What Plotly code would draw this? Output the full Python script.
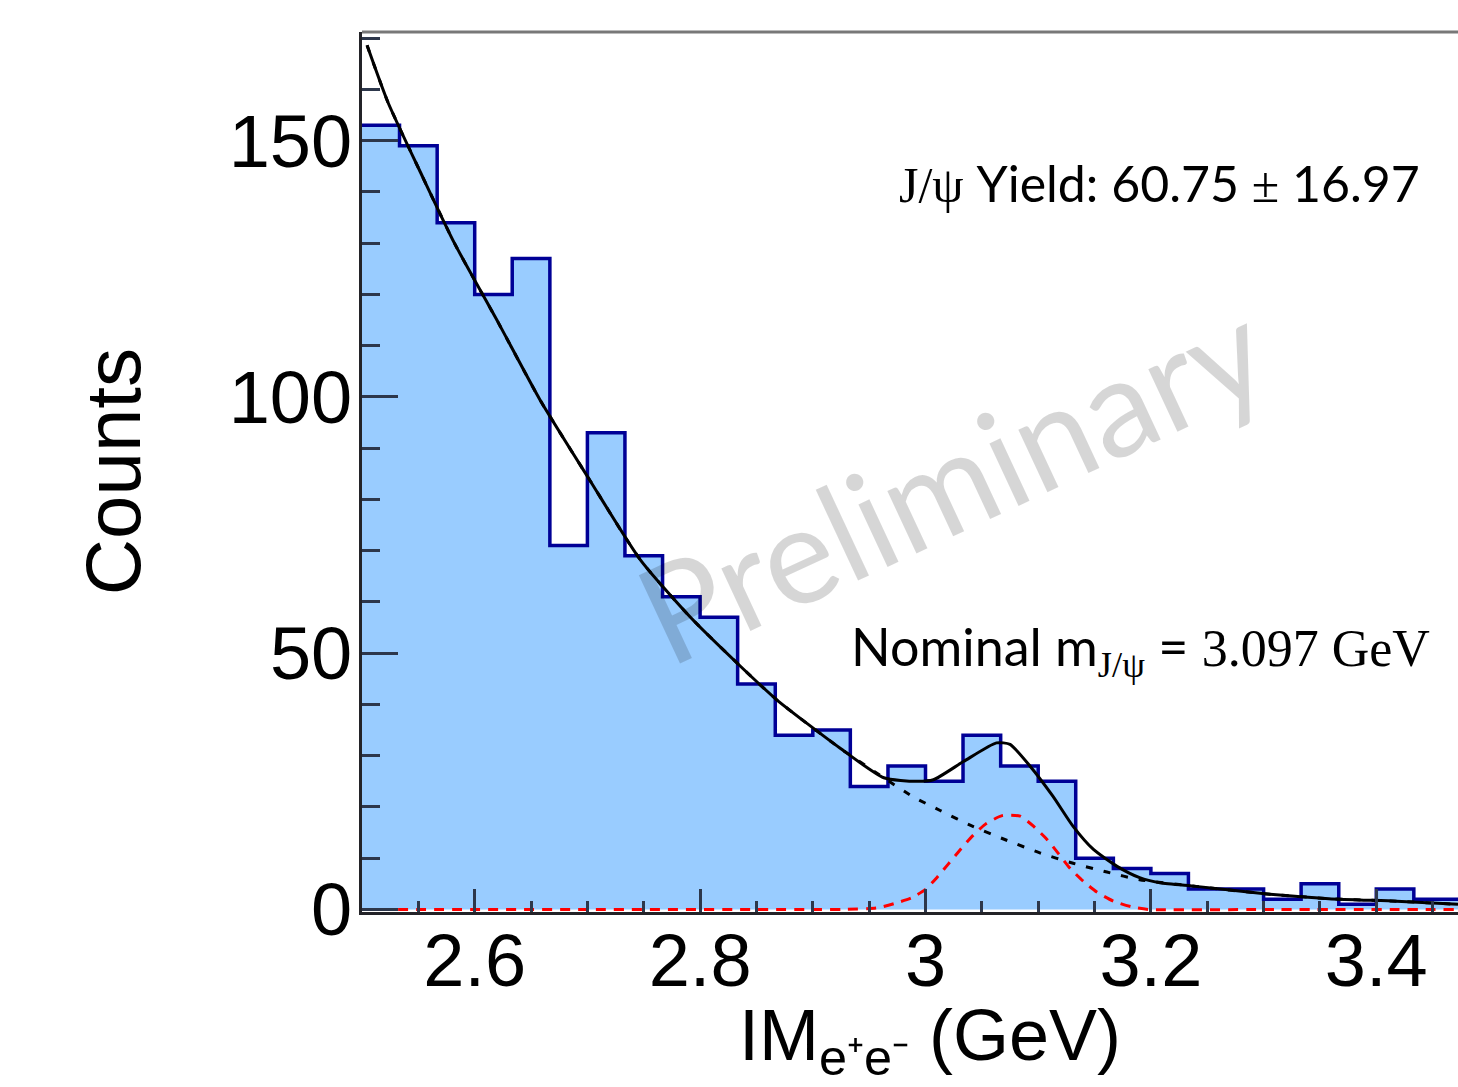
import plotly.graph_objects as go

# ---------------- data ----------------
bin_edges = [2.5, 2.5333, 2.5667, 2.6, 2.6333, 2.6667, 2.7, 2.7333, 2.7667, 2.8,
             2.8333, 2.8667, 2.9, 2.9333, 2.9667, 3.0, 3.0333, 3.0667, 3.1, 3.1333,
             3.1667, 3.2, 3.2333, 3.2667, 3.3, 3.3333, 3.3667, 3.4, 3.4333, 3.4667, 3.5]
counts = [153, 149, 134, 120, 127, 71, 93, 69, 61, 57,
          44, 34, 35, 24, 28, 25, 34, 28, 25, 10,
          8, 7, 4, 4, 2, 5, 1, 4, 2, 2]

# total fit (background + J/psi gaussian)
fit_x = [2.5045, 2.523, 2.553, 2.582, 2.6214, 2.658, 2.702, 2.747, 2.791, 2.836,
         2.868, 2.924, 2.963, 2.992, 3.007, 3.034, 3.063, 3.075, 3.093, 3.113,
         3.131, 3.149, 3.170, 3.190, 3.208, 3.240, 3.299, 3.358, 3.418, 3.4725]
fit_y = [168.6, 157.5, 143.3, 130.0, 114.3, 99.4, 83.8, 68.2, 57.1, 47.4,
         40.9, 31.5, 25.7, 25.0, 25.3, 28.9, 32.5, 32.2, 27.9, 22.1,
         16.2, 11.7, 8.4, 6.2, 5.2, 4.5, 3.1, 2.1, 1.6, 1.0]

# background component
bkg_x = [2.5045, 2.523, 2.553, 2.582, 2.6214, 2.658, 2.702, 2.747, 2.791, 2.836,
         2.868, 2.924, 2.963, 2.988, 3.013, 3.042, 3.072, 3.102, 3.131, 3.161,
         3.190, 3.240, 3.299, 3.358, 3.418, 3.4725]
bkg_y = [168.6, 157.5, 143.3, 130.0, 114.3, 99.4, 83.8, 68.2, 57.1, 47.4,
         40.9, 31.5, 25.7, 22.1, 19.3, 16.2, 13.5, 11.0, 9.0, 7.3,
         5.8, 4.5, 3.1, 2.1, 1.6, 1.0]

# J/psi gaussian component
sig_x = [2.5, 2.7, 2.9, 2.927, 2.957, 2.973, 2.988, 3.0, 3.010, 3.020,
         3.031, 3.042, 3.053, 3.068, 3.084, 3.096, 3.108, 3.118, 3.128, 3.140,
         3.152, 3.167, 3.183, 3.198, 3.3, 3.4725]
sig_y = [0, 0, 0, 0, 0.3, 1.2, 2.3, 3.9, 6.2, 8.8,
         11.7, 14.4, 16.6, 18.3, 18.2, 16.2, 13.6, 10.9, 8.1, 5.5,
         3.4, 1.6, 0.5, 0, 0, 0]

x_tickvals = [2.6, 2.8, 3.0, 3.2, 3.4]
x_ticktext = ["2.6", "2.8", "3", "3.2", "3.4"]
y_tickvals = [0, 50, 100, 150]
y_ticktext = ["0", "50", "100", "150"]

# ---------------- figure ----------------
fig = go.Figure()

fig.add_trace(go.Scatter(
    x=bin_edges, y=counts + [counts[-1]], mode="lines",
    line=dict(shape="hv", color="rgb(0,0,150)", width=3.5),
    fill="tozeroy", fillcolor="rgb(153,204,255)", hoverinfo="skip",
    showlegend=False))

fig.add_trace(go.Scatter(
    x=bkg_x, y=bkg_y, mode="lines",
    line=dict(color="black", width=3, dash="7px,11px", shape="spline", smoothing=0.6),
    showlegend=False))

fig.add_trace(go.Scatter(
    x=sig_x, y=sig_y, mode="lines",
    line=dict(color="rgb(255,0,0)", width=3, dash="10px,8px", shape="spline", smoothing=0.6),
    showlegend=False))

fig.add_trace(go.Scatter(
    x=fit_x, y=fit_y, mode="lines",
    line=dict(color="black", width=3, shape="spline", smoothing=0.6),
    showlegend=False))

axis_font = dict(family="Liberation Sans, Arial, sans-serif", size=74, color="black")

fig.update_xaxes(
    range=[2.5, 3.4725], tickmode="array", tickvals=x_tickvals, ticktext=x_ticktext,
    ticks="inside", ticklen=23, tickwidth=2.5, tickcolor="rgb(45,55,75)",
    minor=dict(dtick=0.05, tick0=2.5, ticks="inside", ticklen=11, tickwidth=2.5,
               tickcolor="rgb(45,55,75)", showgrid=False),
    showline=True, linecolor="rgb(35,35,40)", linewidth=3,
    showgrid=False, zeroline=False, tickfont=axis_font, ticklabelstandoff=-18,
    layer="above traces")

fig.update_yaxes(
    range=[-0.5, 171.2], tickmode="array", tickvals=y_tickvals, ticktext=y_ticktext,
    ticks="inside", ticklen=36, tickwidth=2.5, tickcolor="rgb(45,55,75)",
    minor=dict(dtick=10, tick0=0, ticks="inside", ticklen=18, tickwidth=2.5,
               tickcolor="rgb(45,55,75)", showgrid=False),
    showline=True, linecolor="rgb(35,35,40)", linewidth=3,
    showgrid=False, zeroline=False, tickfont=axis_font, ticklabelstandoff=-8,
    layer="above traces")

text_font = "Lato, 'Open Sans', sans-serif"
serif = "font-family:'Liberation Serif', serif"

fig.update_layout(
    width=1458, height=1087,
    margin=dict(l=362, r=0, t=32, b=175, autoexpand=False),
    plot_bgcolor="white", paper_bgcolor="white",
    shapes=[dict(type="line", xref="paper", yref="paper", x0=0, x1=1, y0=1, y1=1,
                 line=dict(color="rgb(120,120,120)", width=3), layer="above")],
    annotations=[
        dict(text="Preliminary", xref="paper", yref="paper", x=0.537, y=0.492,
             xanchor="center", yanchor="middle", textangle=-25, showarrow=False,
             font=dict(family=text_font, size=136, color="rgba(0,0,0,0.16)")),
        dict(text=f"<span style=\"{serif}\">J/ψ</span> Yield: 60.75 <span style=\"{serif}\">±</span> 16.97",
             xref="paper", yref="paper", x=0.967, y=0.828, xanchor="right", yanchor="middle",
             showarrow=False, font=dict(family=text_font, size=50, color="black")),
        dict(text=f"Nominal m<sub><span style=\"{serif}\">J/ψ</span></sub> = <span style=\"{serif}\">3.097 GeV</span>",
             xref="paper", yref="paper", x=0.976, y=0.298, xanchor="right", yanchor="middle",
             showarrow=False, font=dict(family=text_font, size=52, color="black")),
        dict(text="Counts", xref="paper", yref="paper", x=-0.227, y=0.50,
             xanchor="center", yanchor="middle", textangle=-90, showarrow=False,
             font=dict(family="Liberation Sans, Arial, sans-serif", size=78, color="black")),
        dict(text="IM<sub>e⁺e⁻</sub> (GeV)", xref="paper", yref="paper", x=0.518, y=-0.092,
             xanchor="center", yanchor="top", showarrow=False,
             font=dict(family="Liberation Sans, Arial, sans-serif", size=72, color="black")),
    ],
)

fig.write_html("out.html")
